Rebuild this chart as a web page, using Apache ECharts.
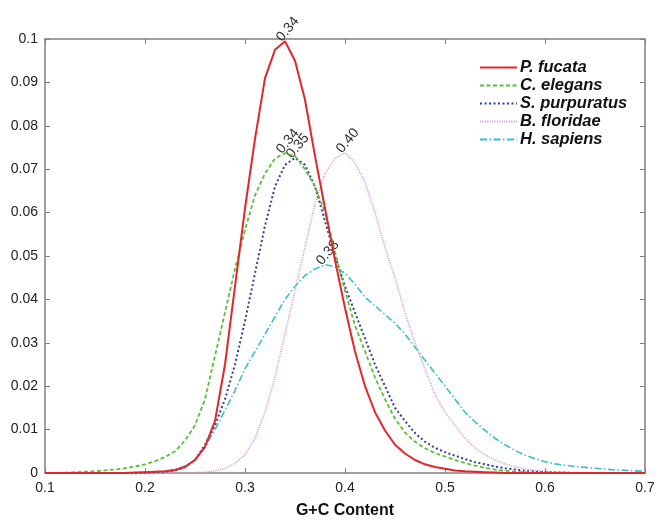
<!DOCTYPE html>
<html>
<head>
<meta charset="utf-8">
<script src="https://cdn.jsdelivr.net/npm/echarts@6/dist/echarts.min.js"></script>
<style>html,body{margin:0;padding:0;background:#fff}#c{width:661px;height:524px}</style>
</head>
<body>
<div id="c"></div>
<script>
// G+C content bins
const gc = [0.10,0.11,0.12,0.13,0.14,0.15,0.16,0.17,0.18,0.19,
            0.20,0.21,0.22,0.23,0.24,0.25,0.26,0.27,0.28,0.29,
            0.30,0.31,0.32,0.33,0.34,0.35,0.36,0.37,0.38,0.39,
            0.40,0.41,0.42,0.43,0.44,0.45,0.46,0.47,0.48,0.49,
            0.50,0.51,0.52,0.53,0.54,0.55,0.56,0.57,0.58,0.59,
            0.60,0.61,0.62,0.63,0.64,0.65,0.66,0.67,0.68,0.69,0.70];

const pFucata = [0,0,0,0,0,0,0,0,0,0.0001,
  0.0002,0.0003,0.0004,0.0007,0.0014,0.003,0.006,0.012,0.025,0.043,
  0.061,0.077,0.091,0.0975,0.0995,0.095,0.086,0.073,0.061,0.049,
  0.038,0.028,0.020,0.014,0.0098,0.0065,0.0045,0.003,0.002,0.0014,
  0.001,0.0006,0.0004,0.0003,0.0002,0.0001,0,0,0,0,
  0,0,0,0,0,0,0,0,0,0,0];

const cElegans = [0,0,0.0001,0.0002,0.0003,0.0004,0.0006,0.0008,0.0011,0.0015,
  0.002,0.0027,0.0037,0.005,0.0075,0.011,0.017,0.027,0.037,0.047,
  0.056,0.064,0.069,0.0725,0.0737,0.073,0.070,0.066,0.060,0.051,
  0.042,0.034,0.028,0.022,0.017,0.0125,0.0093,0.0072,0.0057,0.0046,
  0.0038,0.003,0.0023,0.0017,0.0012,0.0008,0.0005,0.0003,0.0002,0.0001,
  0.0001,0,0,0,0,0,0,0,0,0,0];

const sPurpuratus = [0,0,0,0,0,0,0,0,0,0,
  0.0001,0.0002,0.0003,0.0006,0.0013,0.003,0.0065,0.011,0.017,0.025,
  0.035,0.046,0.057,0.066,0.071,0.0726,0.071,0.066,0.058,0.050,
  0.043,0.037,0.031,0.025,0.020,0.015,0.012,0.0092,0.0072,0.0058,
  0.0048,0.004,0.0032,0.0025,0.002,0.0015,0.0011,0.0008,0.0005,0.0003,
  0.0002,0.0001,0.0001,0,0,0,0,0,0,0,0];

const bFloridae = [0,0,0,0,0,0,0,0,0,0,
  0,0,0,0,0,0.0001,0.0002,0.0005,0.001,0.0022,
  0.0042,0.008,0.014,0.022,0.032,0.042,0.052,0.062,0.069,0.0725,
  0.0738,0.0715,0.067,0.060,0.052,0.045,0.037,0.030,0.024,0.018,
  0.014,0.011,0.008,0.0058,0.0042,0.003,0.0021,0.0014,0.001,0.0006,
  0.0004,0.0002,0.0001,0.0001,0,0,0,0,0,0,0];

const hSapiens = [0,0,0,0,0,0,0,0,0,0,
  0.0001,0.0002,0.0003,0.0008,0.0016,0.003,0.006,0.010,0.0145,0.019,
  0.024,0.028,0.032,0.036,0.040,0.043,0.0455,0.047,0.048,0.0475,
  0.046,0.0435,0.0405,0.0385,0.0365,0.0345,0.032,0.029,0.026,0.023,
  0.020,0.017,0.014,0.0118,0.0098,0.008,0.0065,0.0052,0.0041,0.0033,
  0.0026,0.0021,0.0018,0.0015,0.0013,0.0011,0.0009,0.0007,0.0006,0.0005,0.0004];

const names = ['P. fucata','C. elegans','S. purpuratus','B. floridae','H. sapiens'];
const peakLabels = ['0.34','0.34','0.35','0.40','0.38'];
const peakIndex = [24,24,25,30,28];

const allData = [pFucata,cElegans,sPurpuratus,bFloridae,hSapiens];
const colors = ['#e3262b','#5cbd3c','#2f4196','#d7a2d4','#3bbfc9'];
const dashes = ['solid',[4,2.5],[2,2.5],[1.2,1.2],[7,2.5,1.5,2.5]];
const widths = [2,1.8,2,1.6,1.6];

const series = allData.map((arr,si)=>({
  name:names[si],
  type:'line',
  showSymbol:false,
  symbol:'none',
  animation:false,
  z: 10 - si,
  lineStyle:{color:colors[si],width:widths[si],type:dashes[si]},
  itemStyle:{color:colors[si]},
  data:arr.map((v,i)=>[gc[i],v]),
  markPoint:{
    symbol:'circle',symbolSize:0,silent:true,animation:false,
    data:[{coord:[gc[peakIndex[si]],arr[peakIndex[si]]],
      label:{show:true,formatter:peakLabels[si],position:'top',
        rotate:50,align:'left',verticalAlign:'middle',distance:3,offset:[-5,-3.5],
        fontFamily:'Liberation Sans, Arial, sans-serif',fontSize:14,color:'#333'}}]
  }
}));

const axisCol = '#808080';
const chart = echarts.init(document.getElementById('c'),null,{renderer:'canvas'});
chart.setOption({
  backgroundColor:'#fff',
  animation:false,
  textStyle:{fontFamily:'Liberation Sans, Arial, sans-serif'},
  grid:{left:45,right:16,top:39,bottom:51,containLabel:false},
  legend:{
    orient:'vertical',left:474,top:54,
    itemWidth:37,itemHeight:10,itemGap:1,
    data:names,
    itemStyle:{opacity:0},
    textStyle:{fontSize:16.5,fontStyle:'italic',fontWeight:'bold',color:'#111',
      fontFamily:'Liberation Sans, Arial, sans-serif',padding:[0,0,0,-2]}
  },
  xAxis:[{
    type:'value',min:0.1,max:0.7,interval:0.1,
    name:'G+C Content',nameLocation:'middle',nameGap:30,
    nameTextStyle:{fontSize:16,fontWeight:'bold',color:'#111'},
    axisLine:{show:true,onZero:false,lineStyle:{color:axisCol,width:1.5}},
    axisTick:{show:true,inside:true,length:5,lineStyle:{color:axisCol}},
    axisLabel:{fontSize:14,color:'#222',margin:8,formatter:v=>v.toFixed(1)},
    splitLine:{show:false}
  },{
    type:'value',position:'top',min:0.1,max:0.7,interval:0.1,
    axisLine:{show:true,onZero:false,lineStyle:{color:axisCol,width:1.5}},
    axisTick:{show:true,inside:true,length:5,lineStyle:{color:axisCol}},
    axisLabel:{show:false},splitLine:{show:false}
  }],
  yAxis:[{
    type:'value',min:0,max:0.1,interval:0.01,
    axisLine:{show:true,onZero:false,lineStyle:{color:axisCol,width:1.5}},
    axisTick:{show:true,inside:true,length:5,lineStyle:{color:axisCol}},
    axisLabel:{fontSize:14,color:'#222',margin:7,formatter:v=>String(+v.toFixed(2))},
    splitLine:{show:false}
  },{
    type:'value',position:'right',min:0,max:0.1,interval:0.01,
    axisLine:{show:true,onZero:false,lineStyle:{color:axisCol,width:1.5}},
    axisTick:{show:true,inside:true,length:5,lineStyle:{color:axisCol}},
    axisLabel:{show:false},splitLine:{show:false}
  }],
  series:series
});
</script>
</body>
</html>
